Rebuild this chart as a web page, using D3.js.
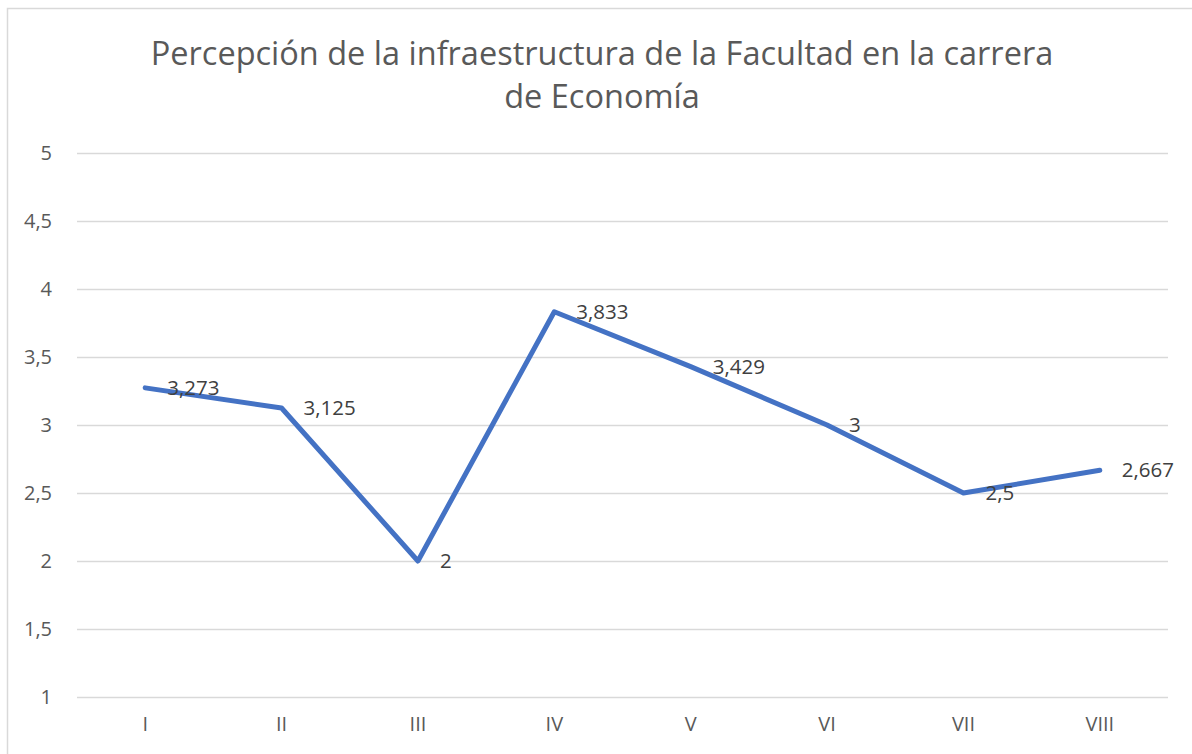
<!DOCTYPE html>
<html>
<head>
<meta charset="utf-8">
<script src="https://cdn.jsdelivr.net/npm/d3@7"></script>
<style>
  html, body { margin: 0; padding: 0; background: #fff; }
  svg { display: block; }
  text { font-family: "Open Sans", "Noto Sans", sans-serif; }
</style>
</head>
<body>
<svg id="chart" width="1192" height="754"></svg>
<script>
// Semesters and their average rating of the faculty's infrastructure
const semesters = ["I", "II", "III", "IV", "V", "VI", "VII", "VIII"];
const ratings = [3.273, 3.125, 2, 3.833, 3.429, 3, 2.5, 2.667];
const ratingTicks = [1, 1.5, 2, 2.5, 3, 3.5, 4, 4.5, 5];
const titleLines = ["Percepción de la infraestructura de la Facultad en la carrera", "de Economía"];

const svg = d3.select("#chart");
const W = 1192, H = 754;
const plot = { left: 77, right: 1168, top: 153, bottom: 697 };

// chart frame
svg.append("rect")
  .attr("x", 7.5).attr("y", 8.5)
  .attr("width", W + 10).attr("height", H + 10)
  .attr("fill", "#fff").attr("stroke", "#d9d9d9").attr("stroke-width", 1.5);

const fmt = v => String(v).replace(".", ",");

const x = d3.scaleBand().domain(semesters).range([plot.left, plot.right]).padding(0);
const y = d3.scaleLinear().domain([1, 5]).range([plot.bottom, plot.top]);
const cx = d => x(d) + x.bandwidth() / 2;

// horizontal gridlines + value labels
const yAxis = d3.axisLeft(y).tickValues(ratingTicks).tickFormat(fmt)
  .tickSize(-(plot.right - plot.left)).tickPadding(25);
const gy = svg.append("g").attr("transform", `translate(${plot.left},0)`).call(yAxis);
gy.select(".domain").remove();
gy.selectAll(".tick line").attr("stroke", "#d9d9d9").attr("stroke-width", 1.5);
gy.selectAll(".tick text").attr("fill", "#595959").attr("font-size", 20);

// category labels
const xAxis = d3.axisBottom(x).tickSize(0).tickPadding(20);
const gx = svg.append("g").attr("transform", `translate(0,${plot.bottom})`).call(xAxis);
gx.select(".domain").remove();
gx.selectAll(".tick text").attr("fill", "#595959").attr("font-size", 20);

// series line
const line = d3.line().x((d, i) => cx(semesters[i])).y(d => y(d));
svg.append("path")
  .datum(ratings)
  .attr("d", line)
  .attr("fill", "none")
  .attr("stroke", "#4472C4")
  .attr("stroke-width", 5)
  .attr("stroke-linejoin", "round")
  .attr("stroke-linecap", "round");

// data labels
svg.append("g").selectAll("text")
  .data(ratings)
  .join("text")
  .attr("x", (d, i) => cx(semesters[i]) + 22)
  .attr("y", d => y(d))
  .attr("dy", "0.35em")
  .attr("fill", "#404040")
  .attr("font-size", 20.5)
  .text(fmt);

// title
svg.append("text")
  .attr("x", 602).attr("y", 65)
  .attr("text-anchor", "middle")
  .attr("fill", "#595959")
  .attr("font-size", 32.5)
  .selectAll("tspan")
  .data(titleLines)
  .join("tspan")
  .attr("x", 602)
  .attr("dy", (d, i) => i === 0 ? 0 : 43)
  .text(d => d);
</script>
</body>
</html>
